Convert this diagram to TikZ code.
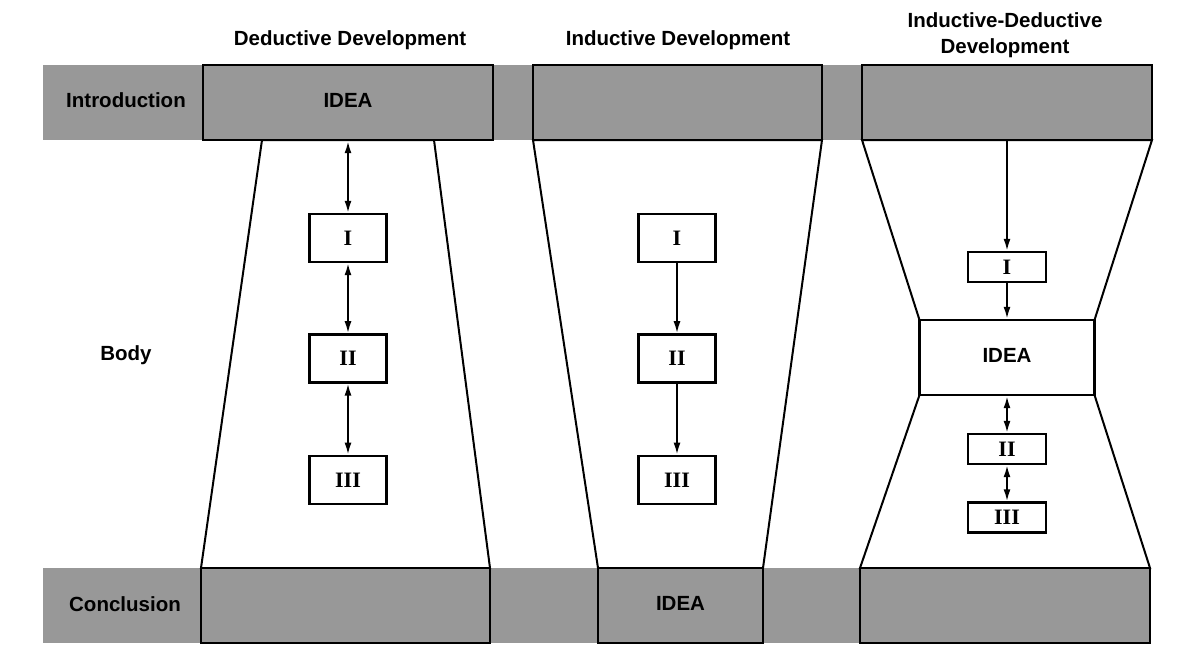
\documentclass[tikz,border=0pt]{standalone}
\usepackage{fontspec}
\setmainfont{Liberation Serif}
\setsansfont{Liberation Sans}
\usetikzlibrary{positioning,arrows.meta}

\begin{document}
\begin{tikzpicture}[x=1pt, y=-1pt]
  \definecolor{band}{HTML}{989898}
  \definecolor{paper}{HTML}{FFFFFF}
  \newcommand{\sectname}[1]{\fontsize{20.5}{26}\selectfont\sffamily\bfseries \begin{tabular}{c}#1\end{tabular}}
  \newcommand{\numname}[1]{\fontsize{22}{24}\selectfont\rmfamily\bfseries #1}
  \tikzstyle{block}     = [rectangle, draw=black, line width=2.4pt, inner sep=0pt]
  \tikzstyle{bandbox}   = [block, fill=band, minimum height=75pt]
  \tikzstyle{numbox}    = [block, fill=white, minimum width=77pt, minimum height=48pt]
  \tikzstyle{smallbox}  = [block, fill=white, minimum width=78pt, minimum height=30pt]
  \tikzstyle{wall}      = [line width=2pt, fill=white, line join=miter]
  \tikzstyle{connector} = [line width=1.8pt, -{Latex[length=12pt, width=7pt]}]
  \tikzstyle{twoway}    = [connector, {Latex[length=12pt, width=7pt]}-{Latex[length=12pt, width=7pt]}]

  \useasboundingbox (0,0) rectangle (1192,662);
  \fill [paper] (0,0) rectangle (1192,662);

  % gray bands
  \fill [band] (43,65)  rectangle (1152,140);
  \fill [band] (43,568) rectangle (1150,643);

  % body outlines
  \draw [wall] (262,140) -- (201,568) -- (490,568) -- (434,140) -- cycle;
  \draw [wall] (533,140) -- (598,568) -- (763,568) -- (822,140) -- cycle;
  \draw [wall] (862,140) -- (919.5,320) -- (919.5,395) -- (860,568)
               -- (1150,568) -- (1094.5,395) -- (1094.5,320) -- (1152,140) -- cycle;

  % row names
  \node (intro) at (126,102) {\sectname{Introduction}};
  \node (body)  at (126,355) {\sectname{Body}};
  \node (concl) at (125,606) {\sectname{Conclusion}};

  % column titles
  \node (dedtitle) at (350,40)  {\sectname{Deductive Development}};
  \node (indtitle) at (678,40)  {\sectname{Inductive Development}};
  \node (mixtitle) at (1005,35) {\sectname{Inductive-Deductive\\Development}};

  % introduction and conclusion boxes
  \node [bandbox, minimum width=290pt] (dedtop) at (348,102.5)   {\sectname{IDEA}};
  \node [bandbox, minimum width=289pt] (indtop) at (677.5,102.5) {};
  \node [bandbox, minimum width=290pt] (mixtop) at (1007,102.5)  {};
  \node [bandbox, minimum width=289pt] (dedbot) at (345.5,605.5) {};
  \node [bandbox, minimum width=165pt] (indbot) at (680.5,605.5) {\sectname{IDEA}};
  \node [bandbox, minimum width=290pt] (mixbot) at (1005,605.5)  {};

  % deductive
  \node [numbox] (dedone)                          at (348,238) {\numname{I}};
  \node [numbox, below = 70pt of dedone] (dedtwo)               {\numname{II}};
  \node [numbox, below = 71pt of dedtwo] (dedthree)             {\numname{III}};

  \draw [twoway] (dedtop) -- (dedone);
  \draw [twoway] (dedone) -- (dedtwo);
  \draw [twoway] (dedtwo) -- (dedthree);

  % inductive
  \node [numbox] (indone)                          at (677,238) {\numname{I}};
  \node [numbox, below = 70pt of indone] (indtwo)               {\numname{II}};
  \node [numbox, below = 71pt of indtwo] (indthree)             {\numname{III}};

  \draw [connector] (indone) -- (indtwo);
  \draw [connector] (indtwo) -- (indthree);

  % inductive-deductive
  \node [smallbox] (mixone)   at (1007,267)   {\numname{I}};
  \node [block, fill=white, minimum width=175pt, minimum height=75pt] (mixidea) at (1007,357.5) {\sectname{IDEA}};
  \node [smallbox] (mixtwo)   at (1007,449)   {\numname{II}};
  \node [smallbox] (mixthree) at (1007,517.5) {\numname{III}};

  \draw [connector] (mixtop) -- (mixone);
  \draw [connector] (mixone) -- (mixidea);
  \draw [twoway] (mixidea) -- (mixtwo);
  \draw [twoway] (mixtwo) -- (mixthree);
\end{tikzpicture}
\end{document}
